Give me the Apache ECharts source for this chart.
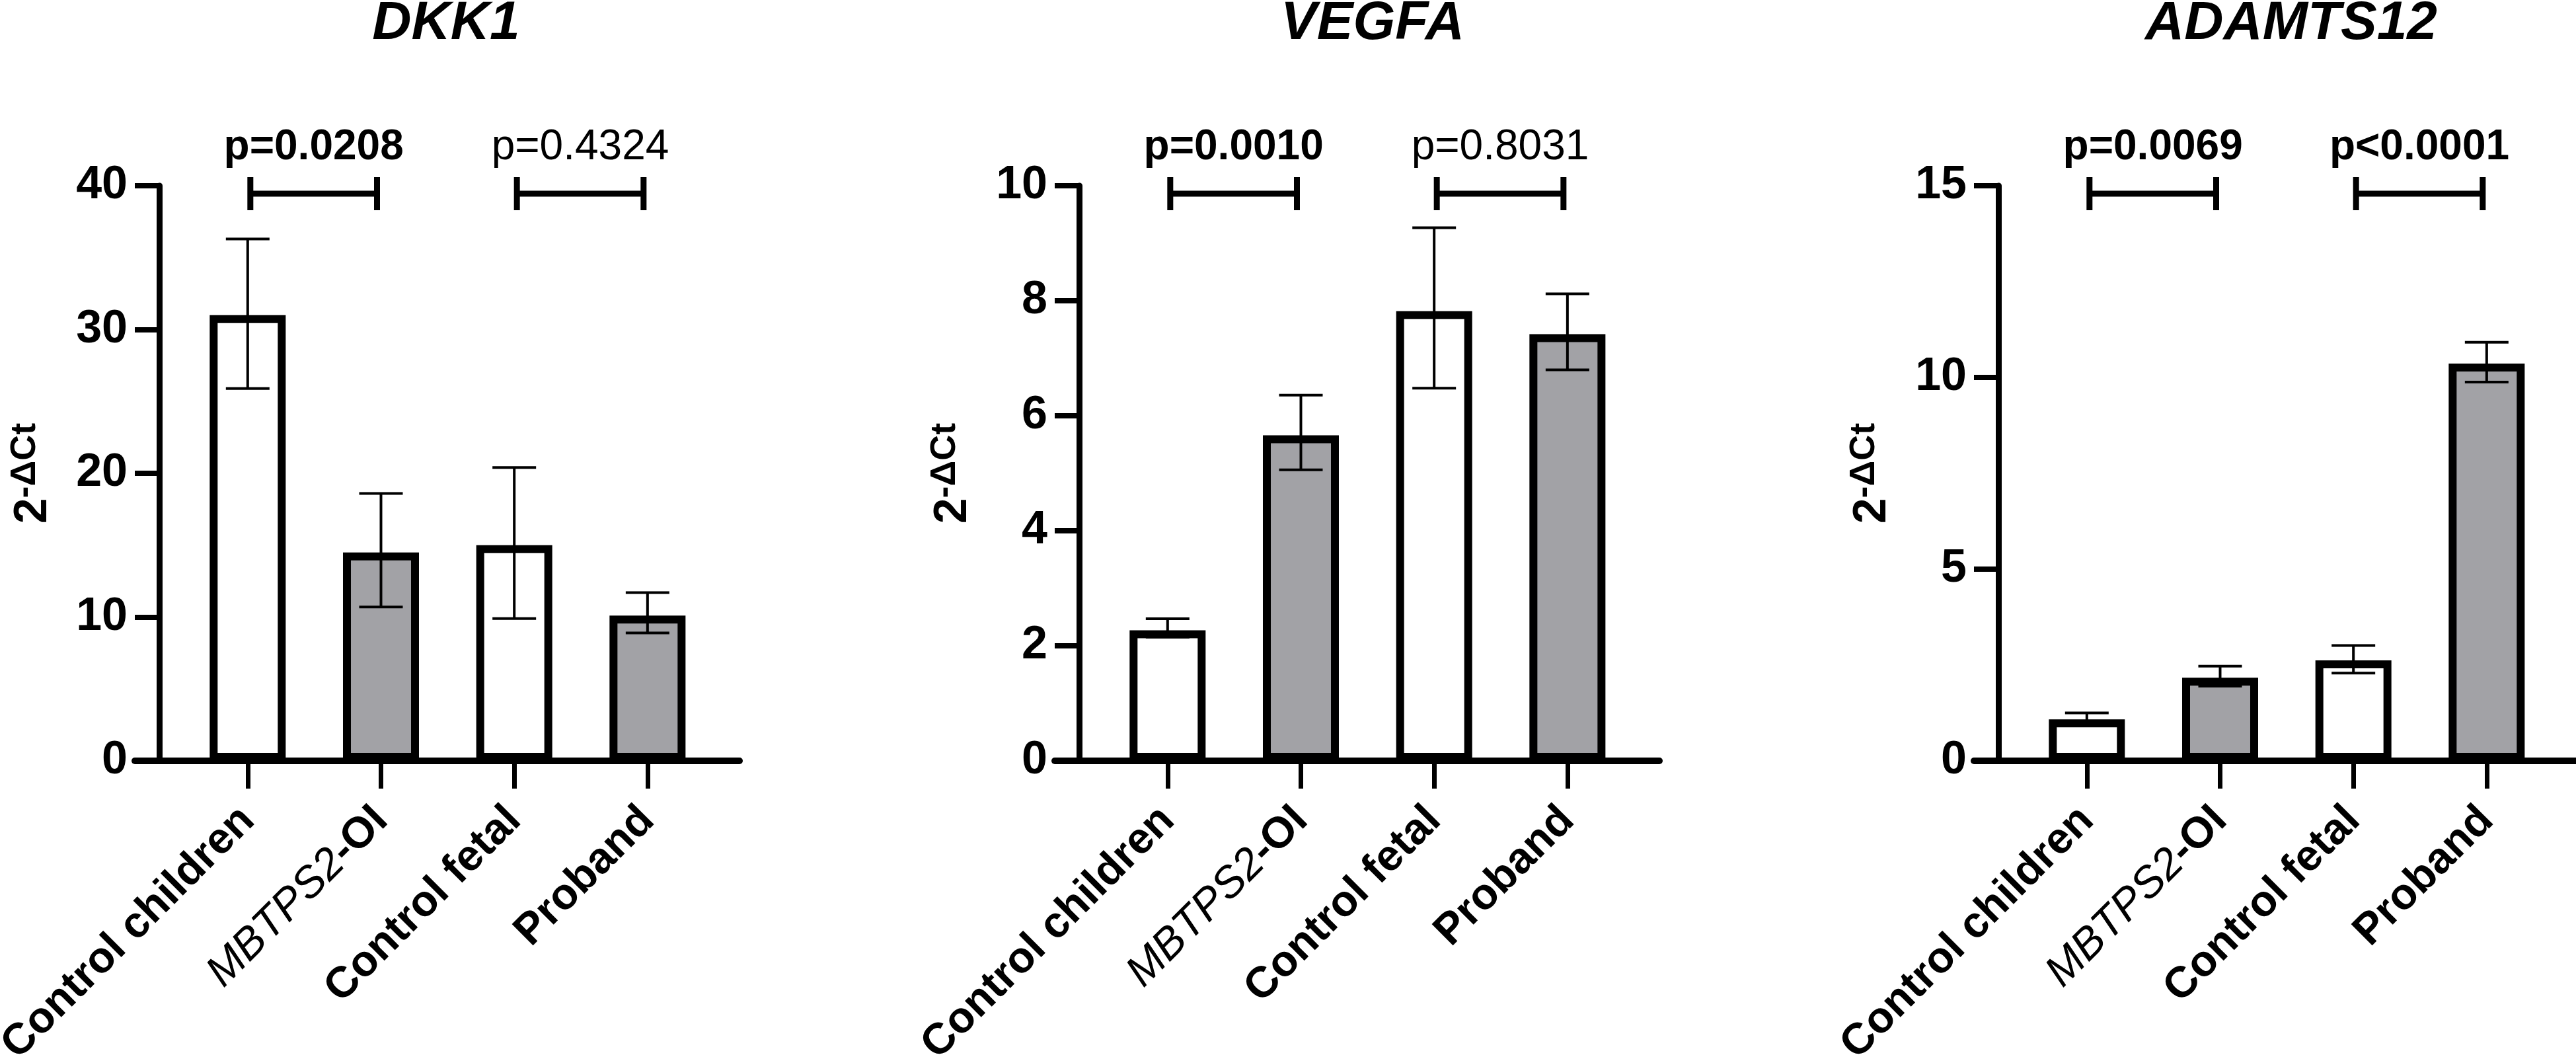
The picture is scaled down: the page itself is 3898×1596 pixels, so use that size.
<!DOCTYPE html>
<html>
<head>
<meta charset="utf-8">
<script src="https://cdn.jsdelivr.net/npm/echarts@6/dist/echarts.min.js"></script>
<style>
  html, body { margin: 0; padding: 0; background: #fff; }
  #chart { width: 3898px; height: 1596px; }
</style>
</head>
<body>
<div id="chart"></div>
<script>
// data
var categories = ['Control children', 'MBTPS2-OI', 'Control fetal', 'Proband'];
var genes = ['DKK1', 'VEGFA', 'ADAMTS12'];

var dkk1Mean = [31.0, 14.5, 15.0, 10.1];
var dkk1Upper = [36.3, 18.6, 20.4, 11.7];
var dkk1Lower = [25.9, 10.7, 9.9, 8.9];

var vegfaMean = [2.27, 5.66, 7.82, 7.42];
var vegfaUpper = [2.47, 6.36, 9.27, 8.12];
var vegfaLower = [2.15, 5.06, 6.48, 6.80];

var adamts12Mean = [1.08, 2.17, 2.62, 10.36];
var adamts12Upper = [1.25, 2.47, 3.01, 10.92];
var adamts12Lower = [0.98, 1.95, 2.29, 9.88];

var yMax = [40, 10, 15];
var yStep = [10, 2, 5];

var pLabels = [['p=0.0208', 'p=0.4324'], ['p=0.0010', 'p=0.8031'], ['p=0.0069', 'p<0.0001']];
var pBold = [[true, false], [true, false], [true, true]];
var pPairs = [[0, 1], [2, 3]];

var barFill = ['#ffffff', '#a2a2a6', '#ffffff', '#a2a2a6'];

var means = [dkk1Mean, vegfaMean, adamts12Mean];
var uppers = [dkk1Upper, vegfaUpper, adamts12Upper];
var lowers = [dkk1Lower, vegfaLower, adamts12Lower];

// layout
var FONT = '"Liberation Sans", Arial, sans-serif';
var gridLeft = [204, 1596, 2987];
var titleX = [675, 2077, 3467];
var gridTop = 281;
var gridW = 915;
var gridH = 870;

var chart = echarts.init(document.getElementById('chart'));

var grids = [], xAxes = [], yAxes = [], series = [], graphics = [];

for (let k = 0; k < 3; k++) {
  grids.push({ left: gridLeft[k], top: gridTop, width: gridW, height: gridH, outerBoundsMode: 'none' });

  xAxes.push({
    type: 'value',
    gridIndex: k,
    min: -0.847,
    max: 3.69,
    splitLine: { show: false },
    axisLine: { onZero: false, lineStyle: { color: '#000', width: 10 } },
    axisTick: { customValues: [0, 1, 2, 3], length: 42, lineStyle: { color: '#000', width: 7 } },
    axisLabel: {
      customValues: [0, 1, 2, 3],
      rotate: 45,
      margin: 80,
      color: '#000',
      formatter: function (v) {
        var i = Math.round(v);
        if (i === 1) return '{i|MBTPS2}{b|-OI}';
        return '{b|' + categories[i] + '}';
      },
      rich: {
        b: { fontSize: 66, fontWeight: 'bold', fontFamily: FONT, color: '#000' },
        i: { fontSize: 66, fontStyle: 'italic', fontFamily: FONT, color: '#000' }
      }
    }
  });

  yAxes.push({
    type: 'value',
    gridIndex: k,
    min: 0,
    max: yMax[k],
    interval: yStep[k],
    offset: -37,
    splitLine: { show: false },
    axisLine: { show: true, onZero: false, lineStyle: { color: '#000', width: 9 } },
    axisTick: { show: true, length: 37, lineStyle: { color: '#000', width: 8 } },
    axisLabel: { margin: 48, color: '#000', fontSize: 70, fontWeight: 'bold', fontFamily: FONT },
    name: '{b|2}{s|-ΔCt}',
    nameLocation: 'middle',
    nameRotate: 90,
    nameGap: 150,
    nameTextStyle: {
      rich: {
        b: { fontSize: 70, fontWeight: 'bold', fontFamily: FONT, color: '#000', lineHeight: 80 },
        s: { fontSize: 54, fontWeight: 'bold', fontFamily: FONT, color: '#000', verticalAlign: 'top' }
      }
    }
  });

  // bars
  series.push({
    type: 'bar',
    xAxisIndex: k,
    yAxisIndex: k,
    barWidth: 115,
    z: 2,
    data: means[k].map(function (v, i) {
      return { value: [i, v], itemStyle: { color: barFill[i] } };
    }),
    itemStyle: { borderColor: '#000', borderWidth: 12 }
  });

  // error bars
  series.push({
    type: 'custom',
    xAxisIndex: k,
    yAxisIndex: k,
    z: 5,
    encode: { x: 0, y: [1, 2] },
    data: means[k].map(function (v, i) { return [i, lowers[k][i], uppers[k][i]]; }),
    renderItem: function (params, api) {
      var x = api.value(0);
      var hi = api.coord([x, api.value(2)]);
      var lo = api.coord([x, api.value(1)]);
      var w = 33;
      var st = { stroke: '#000', lineWidth: 4 };
      return {
        type: 'group',
        children: [
          { type: 'line', shape: { x1: hi[0], y1: hi[1], x2: lo[0], y2: lo[1] }, style: st },
          { type: 'line', shape: { x1: hi[0] - w, y1: hi[1], x2: hi[0] + w, y2: hi[1] }, style: st },
          { type: 'line', shape: { x1: lo[0] - w, y1: lo[1], x2: lo[0] + w, y2: lo[1] }, style: st }
        ]
      };
    }
  });

  // significance brackets
  series.push({
    type: 'custom',
    xAxisIndex: k,
    yAxisIndex: k,
    z: 5,
    encode: { x: [0, 1] },
    data: pPairs,
    renderItem: (function (panel) {
      return function (params, api) {
        var a = api.coord([api.value(0), yMax[panel]]);
        var b = api.coord([api.value(1), yMax[panel]]);
        var x1 = a[0] + 4, x2 = b[0] - 6, y = a[1] + 12;
        var st = { stroke: '#000', lineWidth: 9 };
        var bold = pBold[panel][params.dataIndex];
        return {
          type: 'group',
          children: [
            { type: 'line', shape: { x1: x1, y1: y, x2: x2, y2: y }, style: st },
            { type: 'line', shape: { x1: x1, y1: y - 25, x2: x1, y2: y + 25 }, style: st },
            { type: 'line', shape: { x1: x2, y1: y - 25, x2: x2, y2: y + 25 }, style: st },
            {
              type: 'text',
              x: (x1 + x2) / 2,
              y: y - 70,
              style: {
                text: pLabels[panel][params.dataIndex],
                fontSize: 64,
                fontWeight: bold ? 'bold' : 'normal',
                fontFamily: FONT,
                fill: '#000',
                align: 'center', textAlign: 'center',
                verticalAlign: 'middle', textVerticalAlign: 'middle'
              }
            }
          ]
        };
      };
    })(k)
  });

  graphics.push({
    type: 'text',
    x: titleX[k],
    y: 36,
    style: {
      text: genes[k],
      fontSize: 82,
      fontWeight: 'bold',
      fontStyle: 'italic',
      fontFamily: FONT,
      fill: '#000',
      align: 'center', textAlign: 'center',
      verticalAlign: 'middle', textVerticalAlign: 'middle'
    }
  });
}

var option = {
  backgroundColor: '#fff',
  animation: false,
  grid: grids,
  xAxis: xAxes,
  yAxis: yAxes,
  series: series,
  graphic: graphics
};

chart.setOption(option);
</script>
</body>
</html>
